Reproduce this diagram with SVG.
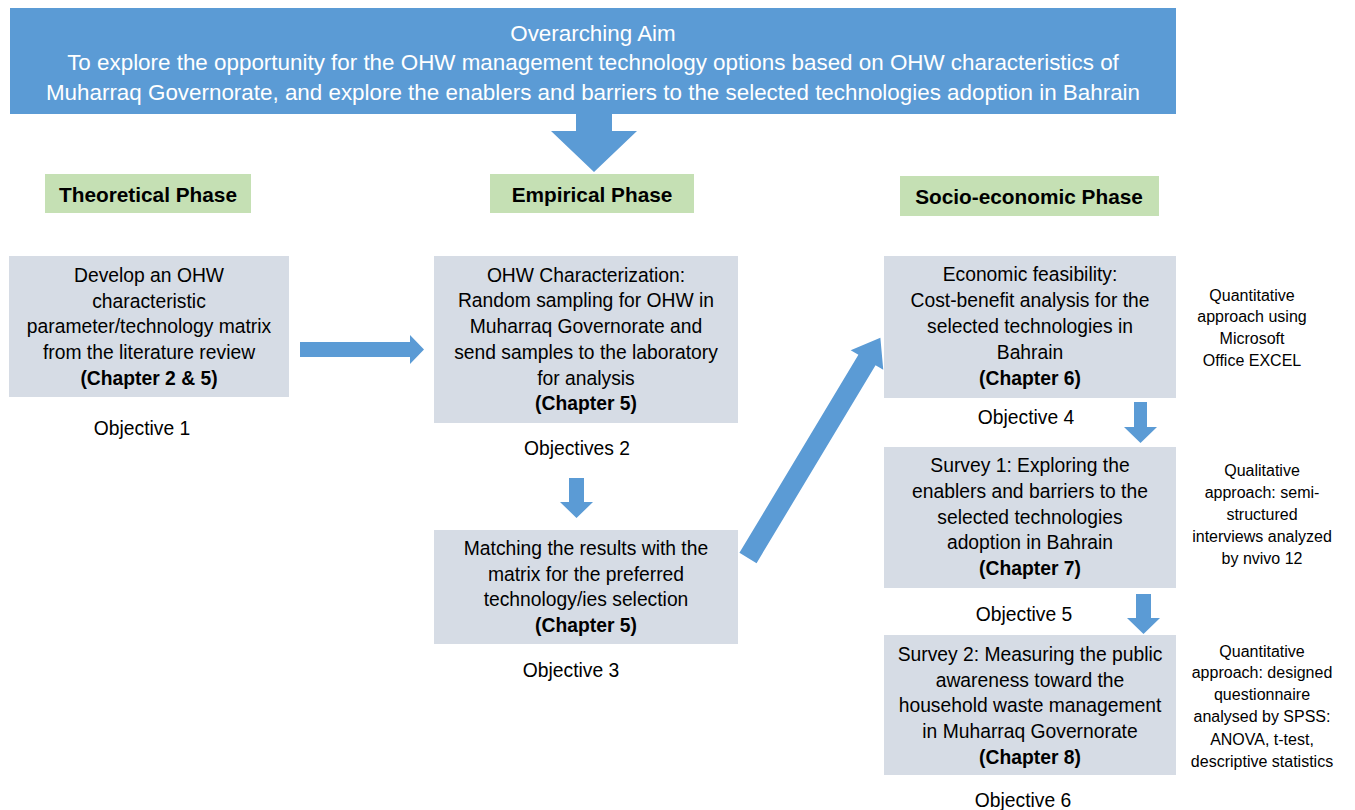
<svg xmlns="http://www.w3.org/2000/svg" width="1355" height="810" viewBox="0 0 1355 810">
<style>
text{font-family:"Liberation Sans",Arial,sans-serif;fill:#000;text-anchor:middle}
.aim{fill:#fff;font-size:22.4px}
.ph{font-size:20.8px;font-weight:bold}
.bx{font-size:19.3px}
.b{font-weight:bold}
.side{font-size:16px}
.box{fill:#D6DCE5}
.green{fill:#C5E0B4}
.arr{fill:#5B9BD5}
</style>
<rect width="1355" height="810" fill="#fff"/>
<g id="aim">
<rect x="10" y="8" width="1166" height="106" fill="#5B9BD5"/>
<text class="aim" x="593" y="41">Overarching Aim</text>
<text class="aim" x="593" y="70">To explore the opportunity for the OHW management technology options based on OHW characteristics of</text>
<text class="aim" x="593" y="100">Muharraq Governorate, and explore the enablers and barriers to the selected technologies adoption in Bahrain</text>
</g>
<g id="phase-theoretical">
<rect class="green" x="45" y="174" width="206" height="39"/>
<text class="ph" x="148" y="202">Theoretical Phase</text>
</g>
<g id="phase-empirical">
<rect class="green" x="490" y="174" width="204" height="39"/>
<text class="ph" x="592" y="202">Empirical Phase</text>
</g>
<g id="phase-socio">
<rect class="green" x="900" y="176" width="259" height="40"/>
<text class="ph" x="1029" y="204">Socio-economic Phase</text>
</g>
<g id="obj1">
<rect class="box" x="9" y="256" width="280" height="141"/>
<text class="bx" x="149" y="282">Develop an OHW</text>
<text class="bx" x="149" y="308">characteristic</text>
<text class="bx" x="149" y="333">parameter/technology matrix</text>
<text class="bx" x="149" y="359">from the literature review</text>
<text class="bx b" x="149" y="385">(Chapter 2 &amp; 5)</text>
<text class="bx" x="142" y="435">Objective 1</text>
</g>
<g id="obj2">
<rect class="box" x="434" y="256" width="304" height="167"/>
<text class="bx" x="586" y="282">OHW Characterization:</text>
<text class="bx" x="586" y="307">Random sampling for OHW in</text>
<text class="bx" x="586" y="333">Muharraq Governorate and</text>
<text class="bx" x="586" y="359">send samples to the laboratory</text>
<text class="bx" x="586" y="385">for analysis</text>
<text class="bx b" x="586" y="410">(Chapter 5)</text>
<text class="bx" x="577" y="455">Objectives 2</text>
</g>
<g id="obj3">
<rect class="box" x="434" y="530" width="304" height="114"/>
<text class="bx" x="586" y="555">Matching the results with the</text>
<text class="bx" x="586" y="581">matrix for the preferred</text>
<text class="bx" x="586" y="606">technology/ies selection</text>
<text class="bx b" x="586" y="632">(Chapter 5)</text>
<text class="bx" x="571" y="677">Objective 3</text>
</g>
<g id="obj4">
<rect class="box" x="884" y="256" width="292" height="142"/>
<text class="bx" x="1030" y="281">Economic feasibility:</text>
<text class="bx" x="1030" y="307">Cost-benefit analysis for the</text>
<text class="bx" x="1030" y="333">selected technologies in</text>
<text class="bx" x="1030" y="359">Bahrain</text>
<text class="bx b" x="1030" y="385">(Chapter 6)</text>
<text class="bx" x="1026" y="424">Objective 4</text>
<text class="side" x="1252" y="301">Quantitative</text>
<text class="side" x="1252" y="322">approach using</text>
<text class="side" x="1252" y="344">Microsoft</text>
<text class="side" x="1252" y="366">Office EXCEL</text>
</g>
<g id="obj5">
<rect class="box" x="884" y="447" width="292" height="141"/>
<text class="bx" x="1030" y="472">Survey 1: Exploring the</text>
<text class="bx" x="1030" y="498">enablers and barriers to the</text>
<text class="bx" x="1030" y="524">selected technologies</text>
<text class="bx" x="1030" y="549">adoption in Bahrain</text>
<text class="bx b" x="1030" y="575">(Chapter 7)</text>
<text class="bx" x="1024" y="621">Objective 5</text>
<text class="side" x="1262" y="476">Qualitative</text>
<text class="side" x="1262" y="498">approach: semi-</text>
<text class="side" x="1262" y="520">structured</text>
<text class="side" x="1262" y="542">interviews analyzed</text>
<text class="side" x="1262" y="564">by nvivo 12</text>
</g>
<g id="obj6">
<rect class="box" x="884" y="635" width="292" height="140"/>
<text class="bx" x="1030" y="661">Survey 2: Measuring the public</text>
<text class="bx" x="1030" y="687">awareness toward the</text>
<text class="bx" x="1030" y="712">household waste management</text>
<text class="bx" x="1030" y="738">in Muharraq Governorate</text>
<text class="bx b" x="1030" y="764">(Chapter 8)</text>
<text class="bx" x="1023" y="807">Objective 6</text>
<text class="side" x="1262" y="657">Quantitative</text>
<text class="side" x="1262" y="678">approach: designed</text>
<text class="side" x="1262" y="700">questionnaire</text>
<text class="side" x="1262" y="722">analysed by SPSS:</text>
<text class="side" x="1262" y="745">ANOVA, t-test,</text>
<text class="side" x="1262" y="767">descriptive statistics</text>
</g>
<g id="connectors">
<polygon class="arr" points="576,114 612,114 612,131 637,131 594,172 551,131 576,131"/>
<polygon class="arr" points="300,342 410,342 410,335 424,349.5 410,364 410,357 300,357"/>
<polygon class="arr" points="569,478 584,478 584,502 593,502 576.5,518 560,502 569,502"/>
<polygon class="arr" transform="translate(748,558) rotate(-59)" points="0,-10 231,-10 231,-19 257,0 231,19 231,10 0,10"/>
<polygon class="arr" points="1134,402 1147,402 1147,427 1157,427 1140.5,443 1124,427 1134,427"/>
<polygon class="arr" points="1136,594 1151,594 1151,618 1160,618 1143.5,634 1127,618 1136,618"/>
</g>
</svg>
